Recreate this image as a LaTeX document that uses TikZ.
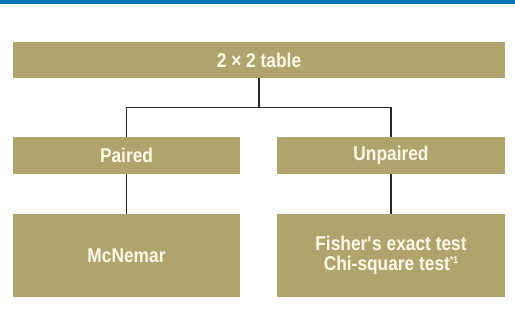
\documentclass[tikz,border=0pt]{standalone}
\usepackage{fontspec}
\setmainfont{Liberation Sans}[FakeStretch=0.87]
\usepackage{tikz}
\usetikzlibrary{calc}
\definecolor{khaki}{HTML}{B0A46E}
\definecolor{cream}{HTML}{FFF9E6}
\definecolor{topblue}{HTML}{0072B5}
\newcommand{\footmark}{{\fontsize{10}{10}\selectfont\raisebox{7bp}{*1}}}
\begin{document}
\begin{tikzpicture}[x=1bp,y=-1bp,
    box/.style={fill=khaki,text=cream,inner sep=0pt,align=center,
        font=\fontsize{20}{20}\selectfont\bfseries},
    link/.style={line width=1.3bp,draw=black!85}]
            \useasboundingbox (0,0) rectangle (515,327);
            \fill[topblue] (0,0) rectangle (515,3.5);

            \node[box,minimum width=492bp,minimum height=36bp] (table) at (259,60) {2 × 2 table};
            \node[box,minimum width=227bp,minimum height=37bp] (paired) at (126.5,155.5) {Paired};
            \node[box,minimum width=228bp,minimum height=37bp] (unpaired) at (391,155.5) {Unpaired};
            \node[box,minimum width=227bp,minimum height=83bp] (mcnemar) at (126.5,255.5) {McNemar};
            \node[box,minimum width=228bp,minimum height=83bp] (fisher) at (391,255.5) {Fisher\textquotesingle s exact test\\Chi-square test\footmark};

            \coordinate (split) at ($(table.south)+(0,29)$);
            \draw[link] (table.south) -- (split);
            \draw[link] (paired.north) |- (split) -| (unpaired.north);
            \foreach \u/\l in {paired/mcnemar,unpaired/fisher} {
                \draw[link] (\u) -- (\l);
            }
        \end{tikzpicture}
\end{document}
